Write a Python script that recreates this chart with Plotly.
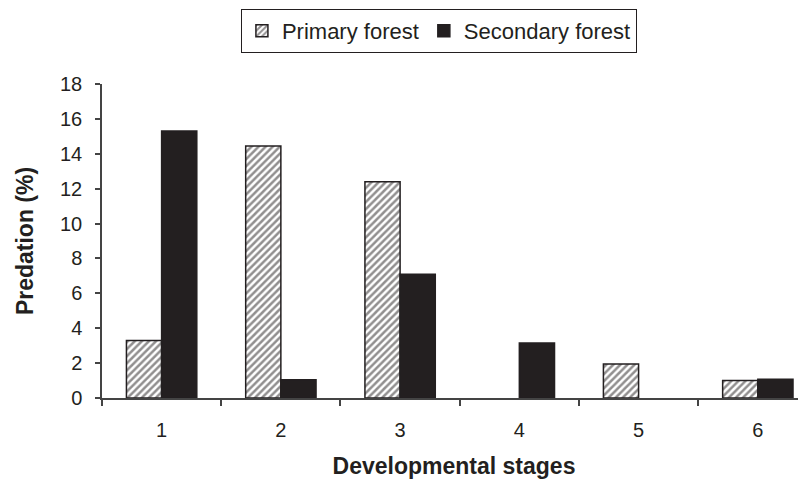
import plotly.graph_objects as go

stages = ["1", "2", "3", "4", "5", "6"]
primary_forest = [3.3, 14.45, 12.4, 0, 1.95, 1.0]
secondary_forest = [15.3, 1.05, 7.1, 3.15, 0, 1.08]

dark = "#231f20"
font_family = "Arial, Liberation Sans, Helvetica, sans-serif"


def outline_widths(values):
    # no visible outline for empty (zero) bars
    return [1.5 if v > 0 else 0 for v in values]


fig = go.Figure()
fig.add_trace(go.Bar(
    x=stages, y=primary_forest, name="Primary forest",
    marker=dict(color="white", line=dict(color=dark, width=outline_widths(primary_forest)),
                pattern=dict(shape="/", fgcolor=dark, bgcolor="white", size=5, solidity=0.5)),
))
fig.add_trace(go.Bar(
    x=stages, y=secondary_forest, name="Secondary forest",
    marker=dict(color=dark, line=dict(color=dark, width=outline_widths(secondary_forest))),
))

# the page body has an 8px margin, so the figure is 8px smaller in each direction
fig.update_layout(
    width=798, height=476,
    margin=dict(l=94, r=0, t=76, b=86, autoexpand=False),
    plot_bgcolor="white", paper_bgcolor="white",
    barmode="group", bargap=0.41, bargroupgap=0,
    font=dict(family=font_family, color=dark, size=20),
    showlegend=True,
    legend=dict(orientation="h", xref="container", yref="container",
                x=0.540, xanchor="center", y=0.998, yanchor="top",
                bordercolor=dark, borderwidth=1, font=dict(size=22),
                traceorder="normal", itemwidth=30),
)
fig.update_xaxes(
    type="category", range=[-0.5, 5.404], automargin=False,
    showline=True, linecolor="#444", linewidth=1.5,
    ticks="outside", tickson="boundaries", ticklen=6, tickcolor="#444", tickwidth=1.5,
    ticklabelstandoff=13,
    showgrid=False, tickfont=dict(size=20),
    title=dict(text="<b>Developmental stages</b>", font=dict(size=23), standoff=18),
)
fig.update_yaxes(
    range=[0, 18], dtick=2, automargin=False,
    showline=True, linecolor="#444", linewidth=1.5,
    ticks="outside", ticklen=5, tickcolor="#444", tickwidth=1.5,
    ticklabelstandoff=9,
    showgrid=False, zeroline=False, tickfont=dict(size=20),
    title=dict(text="<b>Predation (%)</b>", font=dict(size=23), standoff=20),
)

fig.write_html("out.html")
